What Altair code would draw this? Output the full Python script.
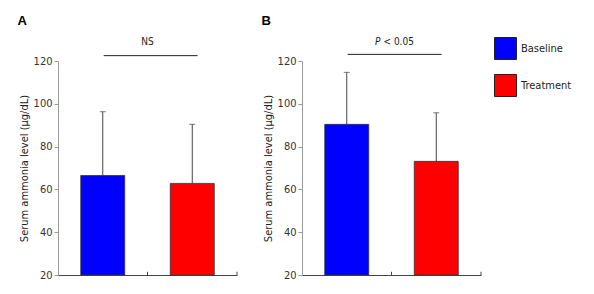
import altair as alt
import pandas as pd

groups = ["Baseline", "Treatment"]
colors = ["#0000FF", "#FF0000"]
x_pos = [0.5, 1.5]

mean_a = [66.5, 62.8]
upper_a = [96.3, 90.4]
mean_b = [90.4, 73.1]
upper_b = [114.7, 95.8]

y_ticks = [20, 40, 60, 80, 100, 120]
y_title = "Serum ammonia level (\u03bcg/dL)"
FONT = "DejaVu Sans Condensed, DejaVu Sans"


def panel(means, uppers, letter, sig_y, sig_text):
    df = pd.DataFrame({"group": groups, "x": x_pos, "mean": means, "upper": uppers})
    xs = alt.Scale(domain=[0, 2], nice=False, zero=False, padding=0)
    ys = alt.Scale(domain=[20, 120], nice=False, zero=False, padding=0)
    xenc = alt.X("x:Q", scale=xs, axis=alt.Axis(values=[0, 1, 2], labels=False, ticks=False,
                                                 grid=False, title=None, domainColor="#444"))
    yaxis = alt.Axis(values=y_ticks, grid=False, title=y_title, domainColor="#999",
                     tickColor="#999", tickSize=4, labelFontSize=11, labelColor="#333",
                     titleFontSize=11, titleColor="#222", titleFontWeight="normal",
                     labelPadding=2, titlePadding=4, labelFont=FONT, titleFont=FONT)
    bars = alt.Chart(df).mark_bar(size=44, stroke="#333", strokeWidth=0.8).encode(
        x=xenc,
        y=alt.Y("mean:Q", scale=ys, axis=yaxis),
        y2=alt.datum(20),
        color=alt.Color("group:N", scale=alt.Scale(domain=groups, range=colors),
                        legend=alt.Legend(title=None, orient="none", legendX=436, legendY=-24,
                                          symbolType="square", symbolSize=484,
                                          symbolStrokeColor="#222", symbolStrokeWidth=1,
                                          labelFontSize=11, labelColor="#222", labelFont=FONT,
                                          rowPadding=10, labelOffset=4)),
    )
    err = alt.Chart(df).mark_rule(color="#444", strokeWidth=1).encode(
        x="x:Q", y="mean:Q", y2="upper:Q")
    cap = alt.Chart(df).mark_tick(color="#444", orient="horizontal", size=6, thickness=1).encode(
        x="x:Q", y="upper:Q")
    tdf = pd.DataFrame({"x": [1, 2], "y0": [20, 20], "y1": [21.5, 21.5]})
    xticks = alt.Chart(tdf).mark_rule(color="#444").encode(x="x:Q", y="y0:Q", y2="y1:Q")
    sdf = pd.DataFrame({"x0": [0.51], "x1": [1.56], "y": [sig_y]})
    sig = alt.Chart(sdf).mark_rule(color="#222", strokeWidth=1).encode(x="x0:Q", x2="x1:Q", y="y:Q")
    layers = [bars, err, cap, xticks, sig]
    if sig_text == "NS":
        ldf = pd.DataFrame({"x": [1.0], "y": [128.9], "t": ["NS"]})
        layers.append(alt.Chart(ldf).mark_text(fontSize=10, font=FONT, color="#222").encode(
            x="x:Q", y="y:Q", text="t:N"))
    else:
        pdf = pd.DataFrame({"x": [1.0], "y": [128.9], "t": ["P"]})
        qdf = pd.DataFrame({"x": [1.0], "y": [128.9], "t": ["< 0.05"]})
        layers.append(alt.Chart(pdf).mark_text(fontSize=10, font=FONT, fontStyle="italic",
                                              color="#222", align="right", dx=-11).encode(
            x="x:Q", y="y:Q", text="t:N"))
        layers.append(alt.Chart(qdf).mark_text(fontSize=10, font=FONT, color="#222",
                                              align="left", dx=-8).encode(
            x="x:Q", y="y:Q", text="t:N"))
    adf = pd.DataFrame({"x": [-0.40], "y": [138.9], "t": [letter]})
    layers.append(alt.Chart(adf).mark_text(fontSize=13, fontWeight="bold", font="Liberation Sans",
                                          color="#000").encode(x="x:Q", y="y:Q", text="t:N"))
    return alt.layer(*layers).properties(width=179, height=214)


pa = panel(mean_a, upper_a, "A", 122.5, "NS")
pb = panel(mean_b, upper_b, "B", 123.1, "P")

chart = alt.hconcat(pa, pb, spacing=23).configure_view(stroke=None).properties(
    padding={"left": 9, "top": 6, "right": 5, "bottom": 5})

chart.save("out.html", embed_options={"renderer": "svg", "actions": False})
